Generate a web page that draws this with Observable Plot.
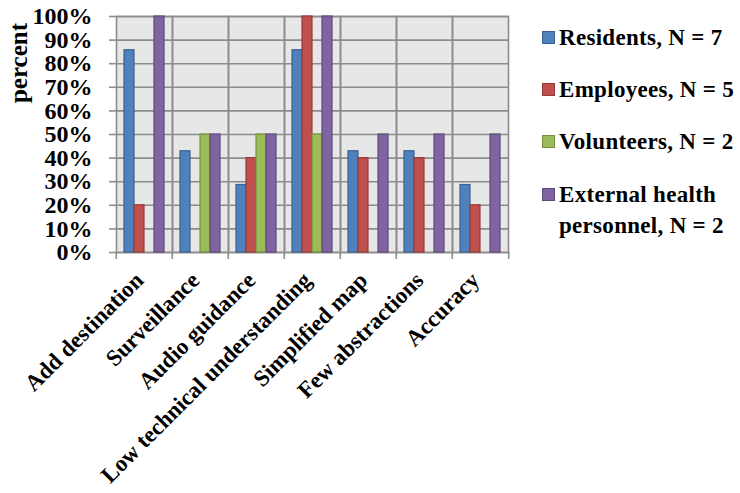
<!DOCTYPE html>
<html>
<head>
<meta charset="utf-8">
<script src="https://cdn.jsdelivr.net/npm/d3@7"></script>
<script src="https://cdn.jsdelivr.net/npm/@observablehq/plot@0.6"></script>
<style>
  html, body { margin: 0; padding: 0; background: #fff; }
  #wrap { position: relative; width: 740px; height: 493px; font-family: "Liberation Serif", serif; font-weight: bold; color: #000; }
  #ylabel { position: absolute; left: 19px; top: 63px; transform: translate(-50%, -50%) rotate(-90deg); font-family: "Liberation Serif", serif; font-size: 25px; white-space: nowrap; }
  #legend { position: absolute; left: 542px; top: 0; }
  .row { position: absolute; left: 0; display: flex; align-items: flex-start; font-family: "Liberation Serif", serif; font-weight: bold; font-size: 23px; letter-spacing: 0.3px; line-height: 31px; white-space: nowrap; }
  .sw { width: 13px; height: 13px; margin-top: 9px; margin-right: 4px; box-sizing: border-box; border: 1px solid; flex: none; }
</style>
</head>
<body>
<div id="wrap">
  <div id="chart"></div>
  <div id="ylabel">percent</div>
  <div id="legend"></div>
</div>
<script>
const categories = ["Add destination", "Surveillance", "Audio guidance", "Low technical understanding", "Simplified map", "Few abstractions", "Accuracy"];
const series = ["Residents, N = 7", "Employees, N = 5", "Volunteers, N = 2", "External health personnel, N = 2"];
const residents  = [85.7, 42.9, 28.6, 85.7, 42.9, 42.9, 28.6];
const employees  = [20, 0, 40, 100, 40, 40, 20];
const volunteers = [0, 50, 50, 50, 0, 0, 0];
const external   = [100, 50, 50, 100, 50, 50, 50];
const yTicks = [0, 10, 20, 30, 40, 50, 60, 70, 80, 90, 100];
const fills   = ["#4F81BD", "#C0504D", "#9BBB59", "#8064A2"];
const strokes = ["#3A6190", "#943B39", "#76913F", "#5E4A7A"];

const values = [residents, employees, volunteers, external];
const data = categories.flatMap((c, i) => series.map((s, j) => ({category: c, series: s, value: values[j][i]})));

const width = 740, height = 493, mL = 114, mR = 231;
const step = (width - mL - mR) / categories.length;
const grid = "#8c8c8c";
const font = "Liberation Serif";

const chart = Plot.plot({
  width, height,
  marginLeft: mL, marginRight: mR, marginTop: 16, marginBottom: 241,
  style: {fontFamily: font, fontWeight: "bold", color: "#000", background: "transparent", overflow: "visible"},
  fx: {domain: categories, padding: 0, label: null, axis: null},
  x: {domain: series, paddingInner: 0, paddingOuter: 0.74, axis: null},
  y: {domain: [0, 100], axis: null},
  marks: [
    Plot.frame({fill: "#e7e7e7"}),
    Plot.gridY(yTicks, {stroke: grid, strokeOpacity: 1, strokeWidth: 1.6}),
    Plot.frame({stroke: grid, strokeWidth: 1.6}),
    ...series.map((s, j) => Plot.barY(data.filter(d => d.series === s && d.value > 0), {
      fx: "category", x: "series", y: "value",
      fill: fills[j], stroke: strokes[j], strokeWidth: 1.2
    })),
    Plot.axisY({ticks: yTicks, tickFormat: d => d + "%", tickSize: 7, tickPadding: 17, fontSize: 24, stroke: grid, strokeWidth: 1.6, fill: "#000", label: null}),
    Plot.axisFx({anchor: "bottom", tickRotate: -45, tickSize: 0, tickPadding: 24, dx: -5, fontSize: 23, fill: "#000", label: null}),
    Plot.axisFx({anchor: "bottom", tickSize: 7, tickFormat: () => "", dx: -step / 2, stroke: grid, strokeWidth: 1.6, label: null}),
    Plot.axisFx({anchor: "bottom", ticks: [categories[categories.length - 1]], tickSize: 7, tickFormat: () => "", dx: step / 2, stroke: grid, strokeWidth: 1.6, label: null})
  ]
});
document.getElementById("chart").appendChild(chart);

const legendTops = [22, 74, 126, 179];
const legend = document.getElementById("legend");
series.forEach((s, j) => {
  const row = document.createElement("div");
  row.className = "row";
  row.style.top = legendTops[j] + "px";
  const sw = document.createElement("div");
  sw.className = "sw";
  sw.style.background = fills[j];
  sw.style.borderColor = strokes[j];
  const t = document.createElement("div");
  if (j === 3) { t.innerHTML = "External health<br>personnel, N = 2"; } else { t.textContent = s; }
  row.appendChild(sw); row.appendChild(t);
  legend.appendChild(row);
});
</script>
</body>
</html>
